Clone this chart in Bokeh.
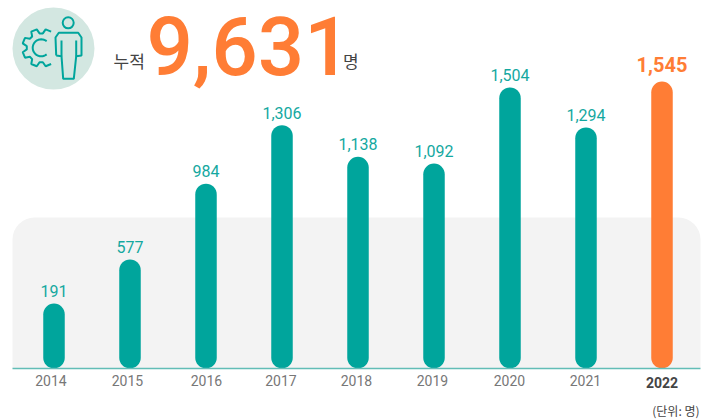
import math
from bokeh.plotting import figure
from bokeh.models import Range1d, FixedTicker
from bokeh.embed import file_html
from bokeh.resources import INLINE
from bokeh.core.properties import value

years = ["2014", "2015", "2016", "2017", "2018", "2019", "2020", "2021", "2022"]
labels = ["191", "577", "984", "1,306", "1,138", "1,092", "1,504", "1,294", "1,545"]
values = [191, 577, 984, 1306, 1138, 1092, 1504, 1294, 1545]
# heights as drawn in the picture: the 2014 bar is drawn taller than its value
drawn = [350, 587, 995, 1310, 1140, 1103, 1513, 1298, 1545]
total = "9,631"

TEAL = "#00a59c"
ORANGE = "#ff7d35"
W, H = 701, 419
BASE_PX = 368
X0 = 53.5
STEP = 76.0
UNIT = 287.0 / 1545.0   # px per person


def dx(px):
    return (px - X0) / STEP


def dy(px):
    return (BASE_PX - px) / UNIT


p = figure(width=W, height=H, output_backend="svg", toolbar_location=None,
           x_range=Range1d(dx(0), dx(W)), y_range=Range1d(dy(H), dy(0)),
           min_border_left=0, min_border_right=0, min_border_top=0, min_border_bottom=0,
           outline_line_color=None)
p.grid.visible = False
p.yaxis.visible = False

xs = list(range(len(years)))

# background panel
p.quad(left=[dx(12)], right=[dx(700)], top=[dy(217)], bottom=[0], fill_color="#f3f3f3",
       line_color=None, border_radius=(22, 22, 0, 0))

# tick labels sit slightly off the bar centres in the reference
tick_pos = [dx(v) for v in (50.5, 127, 206, 280.5, 356, 432, 509, 585)]
ax = p.xaxis[0]
ax.fixed_location = 0
ax.ticker = FixedTicker(ticks=tick_pos)
ax.major_label_overrides = {tick_pos[i]: years[i] for i in range(8)}
ax.axis_line_color = None
ax.major_tick_line_color = None
ax.minor_tick_line_color = None
ax.major_label_text_font = "Roboto"
ax.major_label_text_font_size = "14px"
ax.major_label_text_color = "#777777"
ax.major_label_standoff = 0

# bars
bar_colors = [TEAL] * 8 + [ORANGE]
p.vbar(x=xs, top=drawn, bottom=0, width=21.5 / STEP, fill_color=bar_colors, line_color=None,
       border_radius=11)

# baseline
p.line([dx(12), dx(700)], [0, 0], line_color="#62bdb6", line_width=1.5)

# value labels
p.text(x=xs[:-1], y=[d + 34 for d in drawn[:-1]], text=labels[:-1], text_font=value("Roboto"),
       text_font_size="16px", text_color="#14a89f", text_align="center", text_baseline="bottom")
p.text(x=xs[-1:], y=[drawn[-1] + 52], text=labels[-1:], text_font=value("Roboto"),
       text_font_style="bold", text_font_size="20px", text_color=ORANGE, text_align="center",
       text_baseline="bottom")
p.text(x=xs[-1:], y=[dy(382)], text=years[-1:], text_font=value("Roboto"), text_font_style="bold",
       text_font_size="14px", text_color="#444444", text_align="center", text_baseline="middle")
p.text(x=[dx(699)], y=[dy(410)], text=["(단위: 명)"], text_font=value("Noto Sans CJK KR"),
       text_font_size="12px", text_color="#444444", text_align="right", text_baseline="middle")

# header
p.text(x=[dx(146)], y=[dy(45)], text=[total], text_font=value("Roboto Medium"),
       text_font_size="82px", text_color=ORANGE, text_baseline="alphabetic")
p.text(x=[dx(113)], y=[dy(60)], text=["누적"], text_font=value("Noto Sans CJK KR"),
       text_font_size="17px", text_color="#444444", text_baseline="alphabetic")
p.text(x=[dx(342.5)], y=[dy(60)], text=["명"], text_font=value("Noto Sans CJK KR"),
       text_font_size="17px", text_color="#444444", text_baseline="alphabetic")

# icon: badge
p.scatter(x=[dx(53)], y=[dy(48)], size=82, marker="circle", fill_color="#d3e7e1", line_color=None)

# icon: gear outline, open on the side hidden by the figure
cx, cy = 40.7, 47.3
teeth = 8
gx, gy = [], []
for t in range(teeth):
    a = math.radians(t * 360 / teeth + 22.5)
    for off, r in ((-16, 14.5), (-9, 19), (9, 19), (16, 14.5)):
        b = a + math.radians(off)
        if abs(math.degrees(math.atan2(math.sin(b), math.cos(b)))) > 58:
            gx.append(cx + r * math.cos(b))
            gy.append(cy + r * math.sin(b))
start = next(i for i in range(len(gx)) if math.hypot(gx[i] - gx[i - 1], gy[i] - gy[i - 1]) > 15)
gx, gy = gx[start:] + gx[:start], gy[start:] + gy[:start]
p.line([dx(v) for v in gx], [dy(v) for v in gy], line_color=TEAL, line_width=2)

# icon: inner "C" of the gear
arc = [math.radians(d) for d in range(50, 311, 10)]
p.line([dx(cx + 8.5 * math.cos(a)) for a in arc], [dy(cy + 8.5 * math.sin(a)) for a in arc],
       line_color=TEAL, line_width=2)

# icon: person
p.scatter(x=[dx(67.7)], y=[dy(22.3)], size=11, marker="circle", fill_color=None, line_color=TEAL, line_width=2)
body = [(55.7, 55), (55, 37), (58.3, 32.3), (77.7, 32.3), (81, 37), (81, 55), (75.7, 55.7),
        (73.3, 78.3), (62.7, 78.3), (61, 55.7), (55.7, 55)]
p.line([dx(a) for a, _ in body], [dy(b) for _, b in body], line_color=TEAL, line_width=2)
p.multi_line([[dx(61), dx(61)], [dx(75.7), dx(75.7)]], [[dy(40), dy(55.7)], [dy(40), dy(55.7)]],
             line_color=TEAL, line_width=2)

open("out.html", "w").write(file_html(p, INLINE))
